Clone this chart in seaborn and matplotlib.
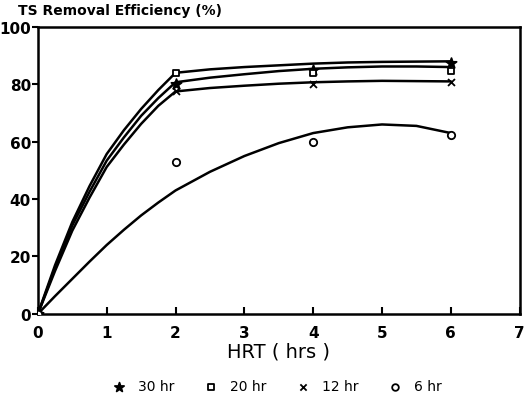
import numpy as np
import pandas as pd
import matplotlib
matplotlib.use('Agg')  # headless
import matplotlib.pyplot as plt
import seaborn as sns

# measured points
hrt_pts = [0, 2, 4, 6]
pts_30 = [0, 80, 85, 87.5]
pts_20 = [0, 84, 84, 84.5]
pts_12 = [0, 77.5, 80, 80.7]
pts_6 = [0, 53, 60, 62.5]

# fitted curves
hrt_fit = [0, 0.25, 0.5, 0.75, 1, 1.25, 1.5, 1.75, 2, 2.5, 3, 3.5, 4, 4.5, 5, 5.5, 6]
fit_a = [0, 17, 32, 44.5, 55.7, 64, 71.4, 78, 84, 85.2, 86, 86.6, 87.2, 87.6, 87.8, 87.9, 88]
fit_b = [0, 16, 30.8, 42.5, 53.4, 61.5, 69, 75.2, 80.7, 82.3, 83.5, 84.6, 85.4, 85.9, 86.2, 86.2, 86]
fit_c = [0, 15, 29, 40.5, 51.2, 59, 66.2, 72.5, 77.5, 78.7, 79.5, 80.2, 80.7, 81, 81.2, 81.1, 81]
fit_d = [0, 6.2, 12.2, 18.2, 24, 29.3, 34.3, 38.8, 43, 49.5, 55, 59.5, 63, 65, 66, 65.5, 63]

labels = ['30 hr', '20 hr', '12 hr', '6 hr']
x_ticks = [0, 1, 2, 3, 4, 5, 6, 7]
y_ticks = [0, 20, 40, 60, 80, 100]

sns.set_style('ticks')
plt.rcParams['font.family'] = ['DejaVu Sans']
plt.rcParams['text.color'] = 'black'
plt.rcParams['xtick.color'] = 'black'
plt.rcParams['ytick.color'] = 'black'
plt.rcParams['axes.labelcolor'] = 'black'
plt.rcParams['axes.edgecolor'] = 'black'

fig = plt.figure(figsize=(5.26, 4.10), dpi=100)  # canvas
ax = fig.add_axes([0.072, 0.232, 0.916, 0.70])

for f in [fit_a, fit_b, fit_c, fit_d]:  # loop crvs
    df = pd.DataFrame({'x': hrt_fit, 'y': f})
    sns.lineplot(data=df, x='x', y='y', color='black', lw=1.8, ax=ax)  # draw crv

markers = ['*', 's', 'x', 'o']
sizes = [60, 22, 25, 28]
handles = []
for p, m, s, lab in zip([pts_30, pts_20, pts_12, pts_6], markers, sizes, labels):  # loop pts
    df = pd.DataFrame({'x': hrt_pts, 'y': p})
    if m == 'x':
        sc = ax.scatter(df['x'], df['y'], marker=m, s=s, color='black', lw=1.3, zorder=3, label=lab)
    else:
        fc = 'black' if m == '*' else 'white'
        sc = ax.scatter(df['x'], df['y'], marker=m, s=s, facecolor=fc, edgecolor='black', lw=1.3, zorder=3, label=lab)
    handles.append(sc)

ax.set_xlim(0, 7)
ax.set_ylim(0, 100)
ax.set_xticks(x_ticks)
ax.set_yticks(y_ticks)
ax.tick_params(axis='x', direction='in', length=5, width=1.5, labelsize=11, pad=8)
ax.tick_params(axis='y', direction='out', length=4, width=1.5, labelsize=11, pad=1)
for t in ax.get_xticklabels() + ax.get_yticklabels():
    t.set_fontweight('bold')
for sp in ax.spines.values():
    sp.set_visible(True)
    sp.set_linewidth(1.8)
ax.set_xlabel('HRT ( hrs )', fontsize=14, labelpad=1)
ax.set_ylabel('')

fig.text(0.034, 0.972, 'TS Removal Efficiency (%)', fontsize=10, fontweight='bold', ha='left', va='center')
fig.legend(handles=handles, labels=labels, loc='center', bbox_to_anchor=(0.52, 0.055), ncol=4,
           frameon=False, fontsize=10, handletextpad=0.4, columnspacing=1.6, markerscale=0.9)

plt.savefig('out.png', dpi=100)  # save png
plt.close()
